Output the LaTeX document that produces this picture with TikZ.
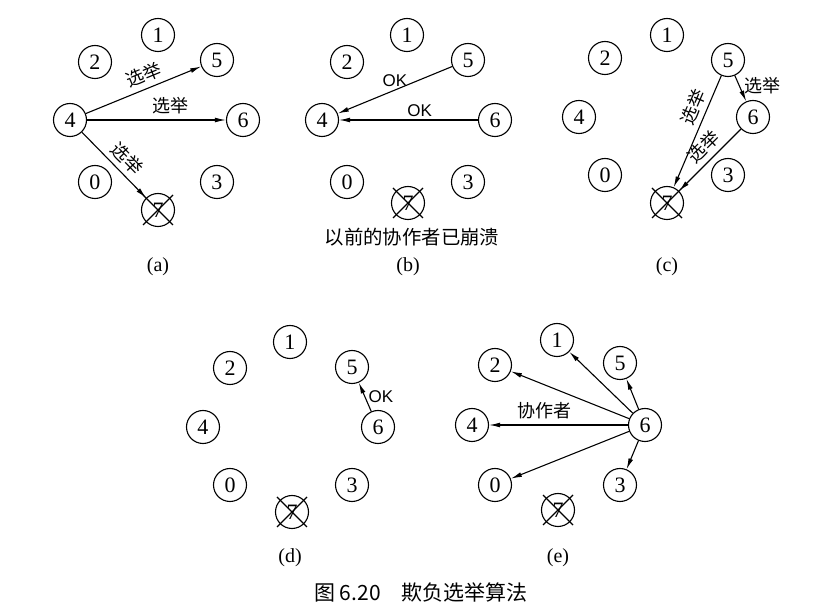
\documentclass[tikz,border=0pt]{standalone}
\usepackage{fontspec}
\setmainfont{Liberation Serif}
\newfontfamily\cjk{Noto Sans CJK SC}
\newfontfamily\oksans{Liberation Sans}
\usetikzlibrary{arrows.meta,calc}

\begin{document}
\begin{tikzpicture}[x=0.5pt,y=-0.5pt,line width=0.55pt,
  >={Latex[length=5.5pt,width=2.4pt]},
  proc/.style={draw,circle,minimum size=16.5pt,inner sep=0pt,font=\fontsize{11}{11}\selectfont},
  msg/.style={->},
  lab/.style={font=\cjk\fontsize{9}{9}\selectfont,inner sep=2.5pt},
  ok/.style={font=\oksans\fontsize{8.5}{9}\selectfont,inner sep=1.5pt},
  sublab/.style={font=\fontsize{10}{10}\selectfont}
]
\useasboundingbox (0,0) rectangle (816,615);
\foreach \n/\x/\y in {1/158/35,2/95/62,5/217/60,4/70/120,6/243/120,0/95/182,3/217/182,7/158/210}
  \node[proc] (a\n) at (\x,\y) {\n};
\foreach \n/\x/\y in {1/407/35,2/347/62,5/468/60,4/322/120,6/495/120,0/347/182,3/468/182,7/408/203}
  \node[proc] (b\n) at (\x,\y) {\n};
\foreach \n/\x/\y in {1/667/35,2/605/58,5/728/60,4/579/117,6/753/117,0/605/175,3/728/175,7/667/203}
  \node[proc] (c\n) at (\x,\y) {\n};
\foreach \n/\x/\y in {1/290/342,2/230/368,5/352/367,4/203/427,6/378/427,0/230/485,3/352/485,7/292/512}
  \node[proc] (d\n) at (\x,\y) {\n};
\foreach \n/\x/\y in {1/557/340,2/495/365,5/620/363,4/472/425,6/645/425,0/495/485,3/620/485,7/558/510}
  \node[proc] (e\n) at (\x,\y) {\n};
\foreach \p in {a,b,c,d,e} {
  \draw ($(\p7.center)+(-15,-15)$) -- ($(\p7.center)+(15,15)$);
  \draw ($(\p7.center)+(-15,15)$) -- ($(\p7.center)+(15,-15)$);
}
\draw[msg] (a4) -- node[lab,sloped,above,pos=0.55] {选举} (a5);
\draw[msg] (a4) -- node[lab,above,pos=0.6] {选举} (a6);
\draw[msg] (a4) -- node[lab,sloped,above,pos=0.55] {选举} (a7);
\draw[msg] (b5) -- node[ok,above,pos=0.5] {OK} (b4);
\draw[msg] (b6) -- node[ok,above,pos=0.42] {OK} (b4);
\draw[msg] (c5) -- node[lab,sloped,above,pos=0.33] {选举} (c7);
\draw[msg] (c5) -- node[lab,right,pos=0.4] {选举} (c6);
\draw[msg] (c6) -- node[lab,sloped,above,pos=0.45] {选举} (c7);
\draw[msg] (d6) -- node[ok,right] {OK} (d5);
\draw[msg] (e6) -- (e1);
\draw[msg] (e6) -- (e2);
\draw[msg] (e6) -- (e5);
\draw[msg] (e6) -- node[lab,above,pos=0.6] {协作者} (e4);
\draw[msg] (e6) -- (e0);
\draw[msg] (e6) -- (e3);
\node[lab,font=\cjk\fontsize{9.7}{10}\selectfont] (crashed) at (412,237) {以前的协作者已崩溃};
\node[sublab] (suba) at (158,267) {(a)};
\node[sublab] (subb) at (408,267) {(b)};
\node[sublab] (subc) at (667,267) {(c)};
\node[sublab] (subd) at (290,558) {(d)};
\node[sublab] (sube) at (558,558) {(e)};
\node[font=\cjk\fontsize{10.5}{11}\selectfont] (caption) at (421,592) {图 6.20\quad 欺负选举算法};
\end{tikzpicture}
\end{document}
